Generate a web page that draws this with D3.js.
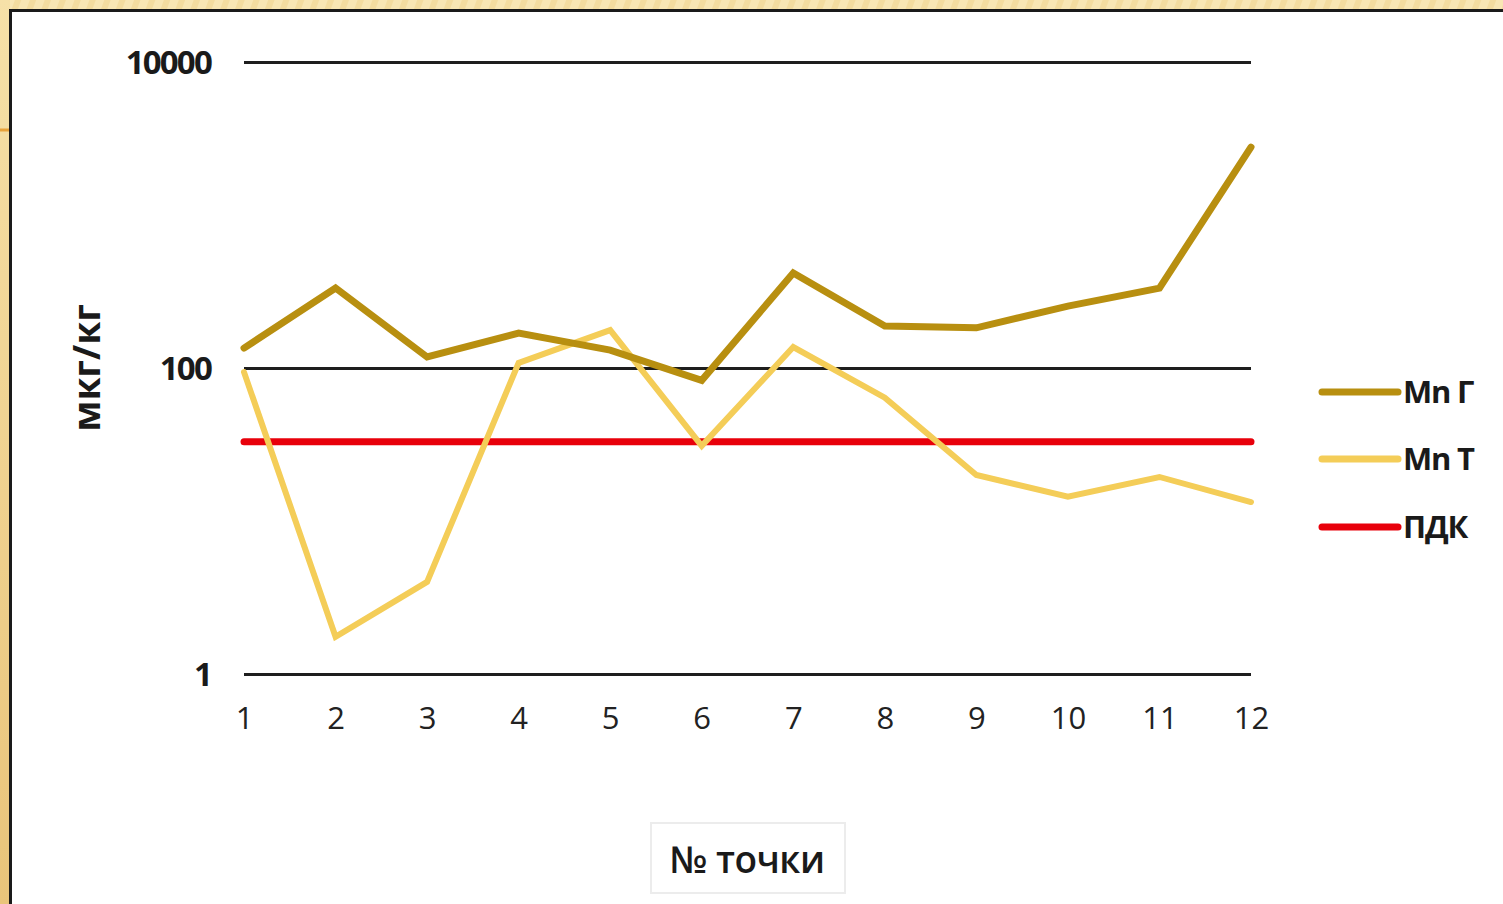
<!DOCTYPE html>
<html>
<head>
<meta charset="utf-8">
<script src="https://cdn.jsdelivr.net/npm/d3@7"></script>
<style>
  html, body { margin: 0; padding: 0; background: #f6e2ad; overflow: hidden; }
  svg { display: block; }
</style>
</head>
<body>
<svg id="chart" width="1503" height="904"></svg>
<script>
// Sampling points and measured manganese content (мкг/кг)
const points = ["1","2","3","4","5","6","7","8","9","10","11","12"];
const mnG = [135, 333, 118, 169, 131, 83, 418, 188, 183, 254, 333, 2780];
const mnT = [94, 1.75, 4.0, 108, 177, 31, 137, 64, 20, 14.4, 19.4, 13.3];
const pdk = [33, 33, 33, 33, 33, 33, 33, 33, 33, 33, 33, 33];
const yTicks = [1, 100, 10000];
const seriesNames = ["Mn Г", "Mn Т", "ПДК"];
const seriesColors = ["#b88f10", "#f4cd58", "#e8000b"];
const seriesWidths = [7, 6, 7];

const svg = d3.select("#chart");

// textured cream frame
const defs = svg.append("defs");
const pat = defs.append("pattern").attr("id", "stripes")
  .attr("width", 14).attr("height", 14).attr("patternUnits", "userSpaceOnUse")
  .attr("patternTransform", "rotate(20)");
pat.append("rect").attr("width", 14).attr("height", 14).attr("fill", "#f8e6b4");
pat.append("rect").attr("width", 6).attr("height", 14).attr("fill", "#f3dca0");
svg.append("rect").attr("width", 1503).attr("height", 904).attr("fill", "url(#stripes)");
const edge = defs.append("linearGradient").attr("id", "leftEdge")
  .attr("x1", 0).attr("y1", 0).attr("x2", 0).attr("y2", 1);
edge.append("stop").attr("offset", 0).attr("stop-color", "#f6e1a8");
edge.append("stop").attr("offset", 1).attr("stop-color", "#e9c47a");
svg.append("rect").attr("x", 0).attr("y", 0).attr("width", 10).attr("height", 904)
  .attr("fill", "url(#leftEdge)");
svg.append("line").attr("x1", 0).attr("x2", 30).attr("y1", 130).attr("y2", 130)
  .attr("stroke", "#e8a23a").attr("stroke-width", 3);

// white panel
svg.append("rect").attr("x", 10.5).attr("y", 10.5).attr("width", 1500).attr("height", 900)
  .attr("fill", "#ffffff").attr("stroke", "#1a1a1a").attr("stroke-width", 3);

const x = d3.scalePoint().domain(points).range([244, 1251]);
const y = d3.scaleLog().domain([1, 10000]).range([674, 62]);

// horizontal gridlines with labels
const yAxis = d3.axisLeft(y).tickValues(yTicks).tickSize(-(1251 - 244))
  .tickFormat(d3.format("d")).tickPadding(33);
const gy = svg.append("g").attr("transform", "translate(244,0)").call(yAxis);
gy.select(".domain").remove();
gy.selectAll(".tick line").attr("stroke", "#1e1e1e").attr("stroke-width", 3);
gy.selectAll(".tick text")
  .attr("font-family", "'Open Sans', sans-serif").attr("font-weight", 700)
  .attr("font-size", 33).attr("letter-spacing", -1.8).attr("fill", "#1a1a1a")
  .attr("dy", "0.36em");

// x axis labels
const xAxis = d3.axisBottom(x).tickSize(0).tickPadding(33);
const gx = svg.append("g").attr("transform", "translate(0,674)").call(xAxis);
gx.select(".domain").remove();
gx.selectAll(".tick text")
  .attr("font-family", "'Open Sans', sans-serif").attr("font-weight", 400)
  .attr("font-size", 31).attr("fill", "#222222");

// data lines
const line = d3.line().x((d, i) => x(points[i])).y(d => y(d));
const allSeries = [mnG, mnT, pdk];
[pdk, mnT, mnG].forEach(s => {
  const k = allSeries.indexOf(s);
  svg.append("path").datum(s).attr("d", line)
    .attr("fill", "none").attr("stroke", seriesColors[k])
    .attr("stroke-width", seriesWidths[k])
    .attr("stroke-linejoin", "miter").attr("stroke-linecap", "round");
});

// axis titles
svg.append("text")
  .attr("transform", "translate(100,368) rotate(-90)")
  .attr("text-anchor", "middle")
  .attr("font-family", "'Open Sans', sans-serif").attr("font-weight", 700)
  .attr("font-size", 37).attr("fill", "#1a1a1a")
  .text("мкг/кг");

svg.append("rect").attr("x", 651).attr("y", 823).attr("width", 194).attr("height", 70)
  .attr("fill", "#ffffff").attr("stroke", "#ececec").attr("stroke-width", 2);
svg.append("text")
  .attr("x", 747).attr("y", 873).attr("text-anchor", "middle")
  .attr("font-family", "'Open Sans', sans-serif").attr("font-weight", 600)
  .attr("font-size", 37).attr("letter-spacing", -0.5).attr("fill", "#1a1a1a")
  .text("№ точки");

// legend
const legendY = [392, 459, 527];
const lg = svg.append("g");
seriesNames.forEach((name, i) => {
  lg.append("line").attr("x1", 1322).attr("x2", 1398)
    .attr("y1", legendY[i]).attr("y2", legendY[i])
    .attr("stroke", seriesColors[i]).attr("stroke-width", 7)
    .attr("stroke-linecap", "round");
  lg.append("text").attr("x", 1403).attr("y", legendY[i]).attr("dy", "0.36em")
    .attr("font-family", "'Open Sans', sans-serif").attr("font-weight", 700)
    .attr("font-size", 31).attr("letter-spacing", -1.2).attr("fill", "#1a1a1a")
    .text(name);
});
</script>
</body>
</html>
